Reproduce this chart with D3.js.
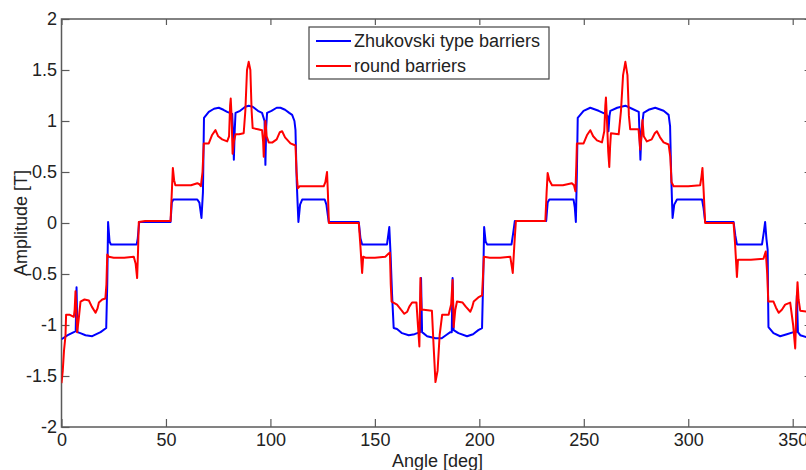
<!DOCTYPE html>
<html>
<head>
<meta charset="utf-8">
<script src="https://cdn.jsdelivr.net/npm/d3@7"></script>
<style>
body { margin: 0; background: #fff; overflow: hidden; }
svg { display: block; font-family: Arial, "Liberation Sans", Helvetica, sans-serif; }
</style>
</head>
<body>
<div id="chart"></div>
<script>
// values: [angle deg, amplitude T]
var zhukovski = [
	[0, -1.14], [3, -1.10], [5.9, -1.07], [6.8, -1.06], [7.2, -0.63], [7.6, -1.07], [9, -1.08],
	[11.5, -1.10], [14.7, -1.11], [18.7, -1.07], [21.4, -1.03], [21.9, -0.60], [22.3, 0.01],
	[23.0, -0.18], [23.6, -0.21], [36.0, -0.21], [36.5, -0.15], [37.2, 0.01], [52.2, 0.01],
	[52.8, 0.20], [53.5, 0.23], [65, 0.23], [66, 0.20], [67, 0.05], [67.7, 0.30], [68.2, 1.03],
	[70.5, 1.09], [73, 1.12], [75.3, 1.13], [77.5, 1.11], [79.3, 1.09], [81.7, 1.07], [82.2, 0.85],
	[82.5, 0.62], [82.9, 0.90], [83.3, 1.08], [85.5, 1.10], [88, 1.14], [89.6, 1.15], [91.5, 1.14],
	[94, 1.10], [96, 1.08], [97.2, 1.00], [97.6, 0.57], [98.0, 0.95], [98.4, 1.08], [100.5, 1.10],
	[103, 1.13], [104.8, 1.13], [107, 1.11], [109, 1.08], [110.4, 1.06], [111.5, 1.00], [112, 0.91],
	[112.6, 0.40], [113.0, 0.20], [113.4, 0.01], [114.2, 0.18], [115.2, 0.23], [126.0, 0.23],
	[126.8, 0.18], [127.9, 0.01], [142.3, 0.01], [143.1, -0.15], [143.9, -0.21], [155.8, -0.21],
	[156.4, -0.12], [156.9, -0.04], [157.5, -0.30], [158.2, -0.69], [159, -1.03], [160.6, -1.04],
	[163, -1.08], [166.2, -1.10], [169, -1.09], [171.6, -1.07], [172.1, -0.54], [172.6, -1.07],
	[175, -1.11], [177, -1.12], [179, -1.13], [182, -1.13], [184, -1.10], [186.1, -1.07],
	[186.8, -1.07], [187.2, -0.54], [187.7, -1.05], [190, -1.08], [194.1, -1.11], [197, -1.09],
	[199.5, -1.05], [201.3, -1.03], [201.9, -0.50], [202.3, -0.04], [203.0, -0.18], [203.7, -0.21],
	[215.4, -0.21], [216.2, -0.10], [217, 0.02], [232, 0.02], [232.7, 0.20], [233.5, 0.23],
	[245.1, 0.23], [245.7, 0.15], [246.2, 0.01], [246.7, 0.50], [247.1, 1.03], [249.9, 1.10],
	[253.1, 1.13], [257.1, 1.10], [260.3, 1.07], [261.3, 1.05], [261.8, 0.90], [262.3, 1.05],
	[262.7, 1.10], [266, 1.13], [269.9, 1.15], [273.1, 1.12], [276.3, 1.09], [276.8, 0.80],
	[277.1, 0.62], [277.6, 0.90], [278.6, 1.08], [281, 1.11], [284.2, 1.13], [288.2, 1.10],
	[290.6, 1.06], [291.3, 0.95], [291.8, 0.50], [292.2, 0.23], [292.5, 0.05], [293.3, 0.18],
	[294.6, 0.23], [306.6, 0.23], [307.3, 0.15], [308.1, 0.01], [321.7, 0.01], [322.5, -0.12],
	[323.3, -0.21], [335.3, -0.21], [336.1, -0.10], [336.8, 0.01], [337.4, -0.15], [338, -0.26],
	[338.2, -0.70], [338.4, -1.02], [340.8, -1.08], [344, -1.11], [347.2, -1.09], [350.4, -1.07],
	[351.5, -1.07], [352, -0.71], [352.5, -1.07], [353.6, -1.10], [360, -1.14]
];

var roundBarriers = [
	[0, -1.57], [0.6, -1.45], [1.2, -1.25], [1.9, -1.11], [2.2, -0.90], [4, -0.90], [5.9, -0.92],
	[6.3, -0.85], [6.7, -0.67], [7.1, -0.85], [7.5, -1.07], [8.2, -0.95], [9.1, -0.77], [11, -0.75],
	[13.1, -0.76], [14.5, -0.82], [16.3, -0.88], [17.2, -0.84], [17.9, -0.78], [19.5, -0.75],
	[21, -0.74], [21.5, -0.60], [21.9, -0.31], [22.6, -0.33], [25, -0.34], [30, -0.34], [34.6, -0.33],
	[35.5, -0.40], [36.2, -0.54], [36.6, -0.30], [37.0, 0.01], [40, 0.02], [45, 0.02], [52.2, 0.02],
	[52.8, 0.30], [53.3, 0.54], [53.9, 0.42], [54.5, 0.37], [58, 0.37], [62, 0.37], [65, 0.39],
	[66, 0.38], [66.7, 0.36], [67.5, 0.50], [68.1, 0.78], [70.5, 0.78], [72, 0.86], [73.7, 0.91],
	[75, 0.85], [76.9, 0.82], [79.3, 0.80], [80.2, 0.85], [80.7, 1.15], [81.0, 1.22], [81.4, 1.05],
	[81.9, 0.68], [82.5, 0.80], [83.3, 0.87], [85, 0.87], [87.2, 0.88], [88, 1.10], [88.8, 1.50],
	[89.6, 1.58], [90.4, 1.50], [91.0, 1.10], [91.5, 0.93], [94, 0.92], [96, 0.91], [96.5, 0.80],
	[96.8, 0.65], [97.2, 0.85], [97.6, 1.00], [98.2, 0.85], [99.2, 0.79], [101, 0.79], [103, 0.82],
	[104.5, 0.89], [105.6, 0.90], [107, 0.84], [109.6, 0.78], [112, 0.76], [112.5, 0.50],
	[113.1, 0.34], [114, 0.36], [118, 0.36], [122, 0.36], [125.5, 0.36], [126.3, 0.40], [127.1, 0.50],
	[127.5, 0.30], [128.0, 0.00], [135, 0.00], [142.3, 0.00], [143.0, -0.20], [143.9, -0.49],
	[144.4, -0.33], [145.5, -0.34], [150, -0.34], [155, -0.33], [156.6, -0.30], [157.2, -0.29],
	[157.6, -0.60], [158, -0.77], [160.6, -0.80], [162.5, -0.85], [164.1, -0.89], [165.5, -0.87],
	[166.5, -0.82], [167.8, -0.78], [169.9, -0.78], [170.6, -1.00], [171.3, -1.21], [171.8, -0.54],
	[172.3, -0.85], [173.4, -0.85], [177.3, -0.86], [178.1, -1.20], [179, -1.56], [180, -1.45],
	[181, -1.10], [182.2, -0.90], [185.3, -0.90], [186.5, -0.80], [187.2, -0.56], [187.7, -1.02],
	[188.5, -0.85], [189.3, -0.77], [192, -0.78], [193.5, -0.82], [195.7, -0.87], [196.5, -0.83],
	[197.3, -0.77], [199.5, -0.73], [201.3, -0.71], [201.8, -0.50], [202.2, -0.33], [205, -0.34],
	[210, -0.34], [214.8, -0.33], [215.5, -0.42], [216, -0.49], [216.8, -0.20], [217.5, 0.02],
	[225, 0.02], [231.6, 0.02], [232.2, 0.30], [232.7, 0.49], [233.5, 0.42], [234.8, 0.37],
	[240, 0.37], [244.3, 0.39], [245.3, 0.37], [246, 0.31], [246.4, 0.55], [246.7, 0.78],
	[249.9, 0.78], [251.5, 0.86], [253.1, 0.91], [254.5, 0.85], [256.3, 0.81], [258.7, 0.79],
	[259.8, 0.90], [260.3, 1.15], [260.6, 1.23], [261.1, 1.00], [261.7, 0.70], [262.2, 0.55],
	[262.6, 0.75], [263, 0.88], [266.7, 0.87], [267.8, 1.10], [268.8, 1.45], [269.9, 1.58],
	[270.9, 1.45], [271.6, 1.05], [272.2, 0.92], [276.2, 0.92], [276.7, 0.80], [277.0, 0.72],
	[277.6, 0.85], [278.1, 1.01], [278.7, 0.85], [280.2, 0.80], [282.5, 0.82], [284, 0.88],
	[285, 0.90], [286.5, 0.84], [288.2, 0.79], [290.6, 0.77], [291.4, 0.65], [292, 0.40],
	[293, 0.36], [300, 0.36], [305.7, 0.37], [306.3, 0.45], [306.8, 0.54], [307.4, 0.30],
	[308.1, 0.00], [315, 0.00], [321.7, 0.00], [322.4, -0.20], [323.3, -0.53], [323.8, -0.36],
	[326, -0.36], [330, -0.36], [336, -0.35], [337.1, -0.28], [337.8, -0.50], [338.3, -0.77],
	[340.8, -0.77], [342, -0.83], [343.3, -0.88], [344.8, -0.85], [346.4, -0.80], [348.8, -0.78],
	[350.2, -1.00], [351.2, -1.23], [351.8, -0.80], [352.3, -0.58], [352.8, -0.75], [353.6, -0.86],
	[360, -0.88]
];

var xTicks = [0, 50, 100, 150, 200, 250, 300, 350];
var yTicks = [-2, -1.5, -1, -0.5, 0, 0.5, 1, 1.5, 2];
var seriesNames = ["Zhukovski type barriers", "round barriers"];
var seriesColors = ["#0000ff", "#ff0000"];

var W = 806, H = 470;
var margin = {top: 19, left: 61.5, bottom: 43, right: -7.6}; // right edge of the box falls outside the window
var pw = W - margin.left - margin.right, ph = H - margin.top - margin.bottom;

var svg = d3.select("#chart").append("svg").attr("width", W).attr("height", H);
var g = svg.append("g").attr("transform", "translate(" + margin.left + "," + margin.top + ")");

var x = d3.scaleLinear().domain([0, 360]).range([0, pw]);
var y = d3.scaleLinear().domain([-2, 2]).range([ph, 0]);

var fmt = function(d) { return String(d); }; // plain hyphen minus like the original
var axisColor = "#5a5a5a";

function styleAxis(sel) {
	sel.select(".domain").remove();
	sel.selectAll(".tick line").attr("stroke", axisColor).attr("stroke-width", 1.2);
	sel.selectAll(".tick text").attr("fill", "#222").style("font-size", "18px");
}

g.append("g").attr("transform", "translate(0," + ph + ")")
	.call(d3.axisBottom(x).tickValues(xTicks).tickFormat(fmt).tickSizeInner(-8).tickSizeOuter(0).tickPadding(6))
	.call(styleAxis);
g.append("g")
	.call(d3.axisTop(x).tickValues(xTicks).tickFormat("").tickSizeInner(-6).tickSizeOuter(0))
	.call(styleAxis);
g.append("g")
	.call(d3.axisLeft(y).tickValues(yTicks).tickFormat(fmt).tickSizeInner(-8).tickSizeOuter(0).tickPadding(4.5))
	.call(styleAxis);
g.append("g").attr("transform", "translate(" + pw + ",0)")
	.call(d3.axisRight(y).tickValues(yTicks).tickFormat("").tickSizeInner(-9).tickSizeOuter(0))
	.call(styleAxis);

g.append("rect").attr("width", pw).attr("height", ph)
	.attr("fill", "none").attr("stroke", axisColor).attr("stroke-width", 1.5);

g.append("clipPath").attr("id", "plotclip")
	.append("rect").attr("width", pw).attr("height", ph);

var line = d3.line().x(function(d) { return x(d[0]); }).y(function(d) { return y(d[1]); });

var plot = g.append("g").attr("clip-path", "url(#plotclip)");
[zhukovski, roundBarriers].forEach(function(s, i) {
	plot.append("path").datum(s)
		.attr("d", line)
		.attr("fill", "none")
		.attr("stroke", seriesColors[i])
		.attr("stroke-width", 2)
		.attr("stroke-linejoin", "round");
});

// axis titles
svg.append("text").attr("x", margin.left + pw / 2).attr("y", 467)
	.attr("text-anchor", "middle").style("font-size", "18px").attr("fill", "#222")
	.text("Angle [deg]");
svg.append("text").attr("transform", "translate(27," + (margin.top + ph / 2) + ") rotate(-90)")
	.attr("text-anchor", "middle").style("font-size", "18px").attr("fill", "#222")
	.text("Amplitude [T]");

// legend
var lg = svg.append("g").attr("transform", "translate(309,27)");
lg.append("rect").attr("width", 240).attr("height", 52)
	.attr("fill", "#fff").attr("stroke", "#444").attr("stroke-width", 1.2);
seriesNames.forEach(function(name, i) {
	var ly = 14 + i * 25;
	lg.append("line").attr("x1", 7).attr("x2", 42).attr("y1", ly).attr("y2", ly)
		.attr("stroke", seriesColors[i]).attr("stroke-width", 2);
	lg.append("text").attr("x", 45).attr("y", ly + 6)
		.style("font-size", "18px").attr("fill", "#222").text(name);
});
</script>
</body>
</html>
